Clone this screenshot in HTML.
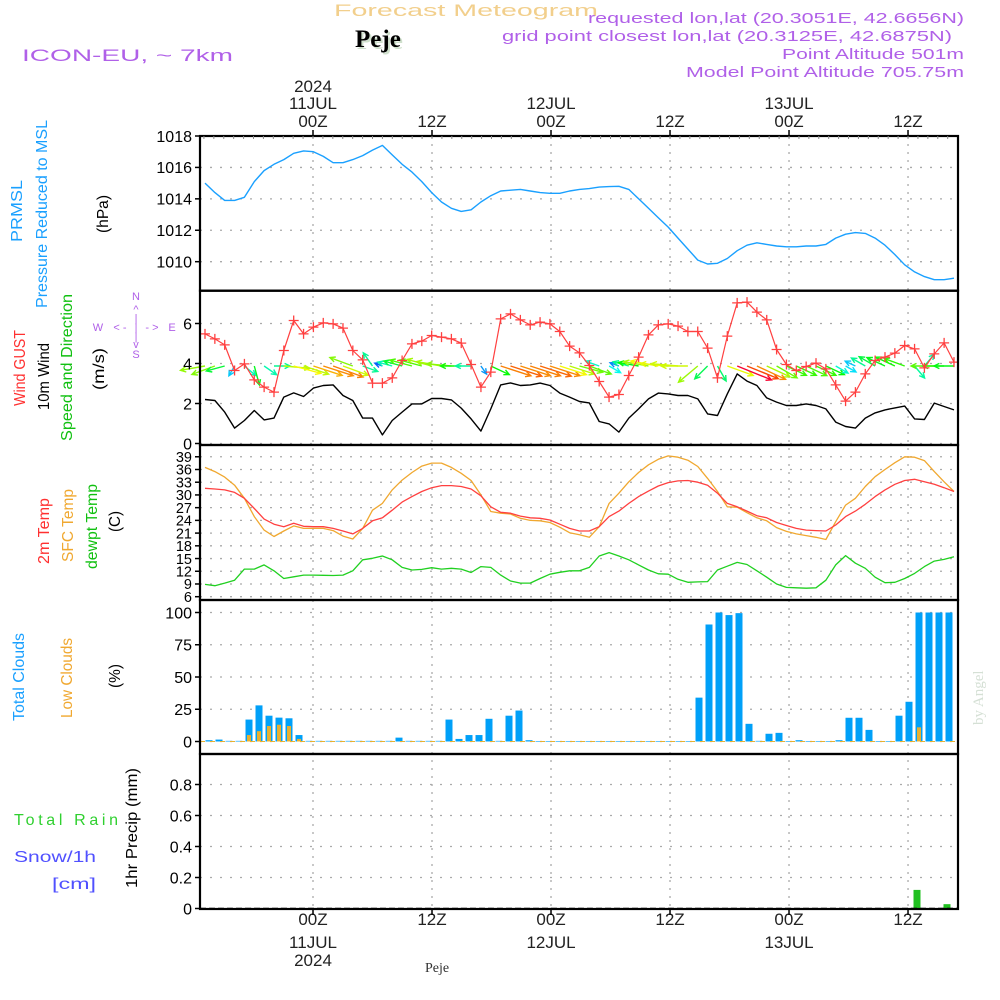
<!DOCTYPE html>
<html><head><meta charset="utf-8"><title>Meteogram Peje</title>
<style>
html,body{margin:0;padding:0;background:#fff;}
svg{display:block;font-family:"Liberation Sans",sans-serif;}
</style></head>
<body>
<svg id="chart" width="1000" height="1000" viewBox="0 0 1000 1000" xmlns="http://www.w3.org/2000/svg">
<rect x="0" y="0" width="1000" height="1000" fill="#fff"/>
<text x="334" y="16" font-size="17" fill="#f2cf8c" textLength="264" lengthAdjust="spacingAndGlyphs">Forecast Meteogram</text>
<text x="357" y="49" font-size="25" font-weight="bold" font-family="Liberation Serif,serif" fill="#cfe0cc">Peje</text>
<text x="355" y="47" font-size="25" font-weight="bold" font-family="Liberation Serif,serif" fill="#000">Peje</text>
<text x="22" y="61" font-size="17" fill="#b060e8" textLength="211" lengthAdjust="spacingAndGlyphs">ICON-EU, ~ 7km</text>
<g font-size="15" fill="#b060e8" text-anchor="end">
<text x="964" y="23" textLength="376" lengthAdjust="spacingAndGlyphs">requested lon,lat (20.3051E, 42.6656N)</text>
<text x="952" y="41" textLength="450" lengthAdjust="spacingAndGlyphs">grid point closest lon,lat (20.3125E, 42.6875N)</text>
<text x="964" y="59" textLength="182" lengthAdjust="spacingAndGlyphs">Point Altitude 501m</text>
<text x="964" y="77" textLength="278" lengthAdjust="spacingAndGlyphs">Model Point Altitude 705.75m</text>
</g>
<text transform="translate(983,725) rotate(-90)" font-size="15" font-family="Liberation Serif,serif" fill="#d5e0d5">by Angel</text>

<g font-size="16">
<text transform="translate(22,242) rotate(-90)" fill="#1aa0ff" textLength="62" lengthAdjust="spacingAndGlyphs">PRMSL</text>
<text transform="translate(47,308) rotate(-90)" fill="#1aa0ff" textLength="188" lengthAdjust="spacingAndGlyphs">Pressure Reduced to MSL</text>
<text transform="translate(108,233) rotate(-90)" fill="#000" textLength="38" lengthAdjust="spacingAndGlyphs">(hPa)</text>
<text transform="translate(25,406) rotate(-90)" fill="#ff3030" textLength="76" lengthAdjust="spacingAndGlyphs">Wind GUST</text>
<text transform="translate(49,410) rotate(-90)" fill="#000" textLength="67" lengthAdjust="spacingAndGlyphs">10m Wind</text>
<text transform="translate(72,441) rotate(-90)" fill="#10c010" textLength="147" lengthAdjust="spacingAndGlyphs">Speed and Direction</text>
<text transform="translate(104,390) rotate(-90)" fill="#000" textLength="42" lengthAdjust="spacingAndGlyphs">(m/s)</text>
<text transform="translate(49,564) rotate(-90)" fill="#ff3030" textLength="66" lengthAdjust="spacingAndGlyphs">2m Temp</text>
<text transform="translate(73,562) rotate(-90)" fill="#f0a830" textLength="73" lengthAdjust="spacingAndGlyphs">SFC Temp</text>
<text transform="translate(97,569) rotate(-90)" fill="#10c010" textLength="85" lengthAdjust="spacingAndGlyphs">dewpt Temp</text>
<text transform="translate(120,532) rotate(-90)" fill="#000" textLength="21" lengthAdjust="spacingAndGlyphs">(C)</text>
<text transform="translate(24,721) rotate(-90)" fill="#1aa0ff" textLength="88" lengthAdjust="spacingAndGlyphs">Total Clouds</text>
<text transform="translate(72,718) rotate(-90)" fill="#f0a830" textLength="80" lengthAdjust="spacingAndGlyphs">Low Clouds</text>
<text transform="translate(120,688) rotate(-90)" fill="#000" textLength="24" lengthAdjust="spacingAndGlyphs">(%)</text>
<text x="14" y="825" fill="#30d030" textLength="104" lengthAdjust="spacing">Total   Rain</text>
<text x="14" y="862" fill="#5050ff" textLength="82" lengthAdjust="spacingAndGlyphs">Snow/1h</text>
<text x="52" y="889" fill="#5050ff" textLength="44" lengthAdjust="spacingAndGlyphs">[cm]</text>
<text transform="translate(137,888) rotate(-90)" fill="#000" textLength="120" lengthAdjust="spacingAndGlyphs">1hr Precip (mm)</text>
</g>
<g font-size="11" fill="#b060e8" text-anchor="middle">
<text x="136" y="300">N</text><text x="136" y="313">^</text><text x="136" y="322">|</text>
<text x="98" y="331">W</text><text x="120" y="331">&lt; -</text><text x="136" y="331">|</text><text x="152" y="331">- &gt;</text><text x="172" y="331">E</text>
<text x="136" y="340">|</text><text x="136" y="348">v</text><text x="136" y="358">S</text>
</g>
<text x="425" y="972" font-size="14" font-family="Liberation Serif,serif" fill="#333">Peje</text>

<g id="grid"></g>
<g id="marks"></g>
<g id="frames"></g>
<g id="axes"></g>
</svg>
<script>
const pressure = [1015.0,1014.4,1013.9,1013.9,1014.1,1015.1,1015.8,1016.2,1016.5,1016.9,
1017.05,1017.0,1016.7,1016.3,1016.3,1016.5,1016.75,1017.1,1017.4,1016.8,
1016.2,1015.7,1015.1,1014.4,1013.8,1013.4,1013.2,1013.3,1013.8,1014.2,
1014.5,1014.55,1014.6,1014.5,1014.4,1014.35,1014.35,1014.5,1014.6,1014.65,
1014.75,1014.78,1014.8,1014.6,1014.0,1013.4,1012.8,1012.2,1011.5,1010.8,
1010.1,1009.85,1009.9,1010.2,1010.7,1011.05,1011.2,1011.1,1011.0,1010.95,
1010.95,1011.0,1011.0,1011.1,1011.5,1011.75,1011.85,1011.8,1011.5,1011.05,
1010.45,1009.8,1009.35,1009.05,1008.85,1008.85,1008.95];
const windGust = [5.48,5.23,4.93,3.65,3.98,3.18,2.82,2.57,4.65,6.15,
5.48,5.82,6.03,5.98,5.77,4.65,4.18,3.02,3.02,3.28,
4.15,4.98,5.12,5.4,5.32,5.23,5.02,3.95,2.82,3.57,
6.23,6.48,6.18,5.93,6.07,5.98,5.6,4.87,4.53,3.9,
3.1,2.32,2.45,3.4,4.32,5.43,5.93,5.98,5.87,5.6,
5.6,4.77,3.28,5.37,7.03,7.07,6.57,6.18,4.7,3.95,
3.65,3.85,4.02,3.73,2.93,2.12,2.57,3.48,4.15,4.32,
4.52,4.9,4.73,3.78,4.48,5.03,4.07];
const wind10m = [2.2,2.15,1.57,0.77,1.15,1.65,1.18,1.27,2.32,2.53,
2.35,2.77,2.9,2.93,2.4,2.15,1.27,1.27,0.43,1.15,
1.57,1.98,1.98,2.25,2.25,2.18,1.77,1.23,0.62,1.73,
2.93,3.03,2.9,2.93,3.02,2.9,2.52,2.32,2.1,2.03,
1.1,0.98,0.57,1.27,1.73,2.23,2.52,2.48,2.4,2.4,
2.23,1.48,1.4,2.48,3.48,3.12,2.9,2.28,2.07,1.9,
1.9,1.98,1.9,1.73,1.07,0.85,0.77,1.27,1.53,1.68,
1.78,1.87,1.23,1.2,2.02,1.85,1.68];
const windDir = [170,160,165,120,40,75,35,0,5,15,
18,18,18,20,20,200,20,235,200,195,
195,195,195,195,190,185,180,180,55,25,
18,18,18,18,18,18,18,18,15,20,
200,30,200,195,190,190,190,185,185,180,
140,135,60,20,22,22,25,25,30,25,
25,25,25,25,30,30,205,210,210,205,
205,200,50,310,180,180,180];
const temp2m = [31.56,31.4,31.2,30.6,29.2,26.8,24.3,23.1,22.5,23.3,
22.6,22.5,22.5,22.1,21.5,20.8,22.1,23.9,24.6,26.4,
28.3,29.6,30.8,31.7,32.2,32.2,32.0,31.4,29.8,27.2,
25.9,25.7,25.0,24.6,24.5,24.1,23.1,22.1,21.5,21.5,
22.5,24.9,26.2,28.0,29.6,30.9,32.1,32.9,33.3,33.4,
33.0,32.3,30.4,28.0,27.2,26.2,25.1,24.6,23.5,22.8,
22.1,21.7,21.6,21.5,22.9,24.9,26.2,27.8,29.6,31.2,
32.5,33.4,33.7,33.1,32.5,31.7,30.8];
const tempSfc = [36.5,35.5,34.2,32.3,29.2,24.9,21.7,20.2,21.5,22.7,
22.1,22.1,22.1,21.6,20.3,19.6,22.1,26.4,28.0,31.2,
33.5,35.3,36.8,37.5,37.5,36.5,35.1,33.4,30.0,26.1,
25.7,25.5,24.5,24.0,23.9,23.5,22.4,21.1,20.6,20.0,
22.5,28.0,30.4,33.1,35.3,37.1,38.4,39.2,38.9,38.2,
36.7,33.9,30.8,27.2,27.1,25.8,24.6,23.9,22.3,21.4,
20.8,20.4,20.0,19.5,23.7,27.6,29.2,32.0,34.3,36.0,
37.6,39.0,38.9,38.1,35.5,33.1,30.8];
const dewpt = [8.9,8.6,9.2,9.9,12.5,12.5,13.5,12.1,10.3,10.7,
11.1,11.1,11.04,11.0,11.1,12.1,14.7,15.05,15.6,14.7,
12.9,12.3,12.45,12.85,12.5,12.7,12.5,11.7,13.1,12.9,
11.1,9.7,9.2,9.2,10.3,11.3,11.75,12.1,12.1,12.9,
15.6,16.4,15.6,14.7,13.5,12.3,11.4,11.3,10.1,9.4,
9.5,9.55,12.3,13.2,14.1,13.6,12.1,10.6,9.0,8.2,
8.1,8.0,8.1,9.9,13.5,15.7,13.9,12.7,10.6,9.3,
9.4,10.3,11.5,13.1,14.4,14.8,15.4];
const totalClouds = [1,1.5,0.5,0.5,17,28,20,18.5,18,5,
0.5,0.5,0.5,0.5,0.5,0.5,0.5,0.5,0.5,3,
0.5,0.5,0.5,0.5,17,2,5,5,17.6,0.5,
20,24,1,0.3,0.3,0.3,0.3,0.3,0.3,0.3,
0.3,0.3,0.3,0.3,0.3,0.3,0.3,0.3,0.3,34,
90.7,100,98,99.5,13.7,0.5,6,6.7,0.3,1,
0.3,0.3,0.3,1,18.4,18.4,9,0.3,0.3,20,
30.8,100,100,100,100,4.4];
const lowClouds = [0,0,0,0,5,8,12,13,12,2,
0,0,0,0,0,0,0,0,0,0,
0,0,0,0,0,0,0,0,0,0,
0,0,0,0,0,0,0,0,0,0,
0,0,0,0,0,0,0,0,0,0,
0,0,0,0,0,0,0,0,0,0,
0,0,0,0,0,0,0,0,0,0,
0,11,0,0,0,0];
const precipIndex = [71,74];
const precipValue = [0.12,0.028];
const pTicks = [1010,1012,1014,1016,1018];
const wTicks = [0,2,4,6];
const tTicks = [6,9,12,15,18,21,24,27,30,33,36,39];
const cTicks = [0,25,50,75,100];
const rTicks = [0,0.2,0.4,0.6,0.8];
const rTickLabels = ["0","0.2","0.4","0.6","0.8"];
const timeHours = [0,12,24,36,48,60];
const topTimeLabels = [["2024","11JUL","00Z"],["","","12Z"],["","12JUL","00Z"],["","","12Z"],["","13JUL","00Z"],["","","12Z"]];
const bottomTimeLabels = [["00Z","11JUL","2024"],["12Z","",""],["00Z","12JUL",""],["12Z","",""],["00Z","13JUL",""],["12Z","",""]];

const L=200,R=958;
const xL = i => 205 + 9.855*i;
const xB = i => 209 + 10*i;
const xH = h => 313 + 9.917*h;
const yP = p => 136 + (1018-p)*15.71;
const yW = v => 443.5 - 20*v;
const yT = t => 596.7 - (t-6)*4.24;
const yC = c => 741.5 - c*1.29;
const yR = r => 908.5 - r*155;
const panels = [[136,290.7],[290.7,445],[445,600],[600,754],[754,909]];

const NS="http://www.w3.org/2000/svg";
function mk(tag, attrs, parent){const e=document.createElementNS(NS,tag);for(const k in attrs)e.setAttribute(k,attrs[k]);parent.appendChild(e);return e;}
const grid=document.getElementById('grid'), marks=document.getElementById('marks'), frames=document.getElementById('frames'), axes=document.getElementById('axes');

timeHours.forEach(h=>{
  const x=xH(h);
  const l=mk('line',{x1:x,x2:x,y1:136,y2:909,stroke:'#aaa','stroke-width':1.3,'stroke-dasharray':'2,6'},grid);
  
  
});
function hgrid(vals, f, y0, y1){
  vals.forEach(v=>{const y=f(v); if(y<y0-1||y>y1+1)return;
    const l=mk('line',{x1:L,x2:R,y1:y,y2:y,stroke:'#aaa','stroke-width':1.3,'stroke-dasharray':'2,8'},grid);
    
    
  });
}
hgrid(pTicks,yP,136,290);hgrid(wTicks,yW,291,445);hgrid(tTicks,yT,445,600);hgrid(cTicks,yC,600,754);hgrid(rTicks,yR,754,909);

function tickLabels(vals, f, labels, fs, name){
  vals.forEach((v,k)=>{const y=f(v);
    const t=mk('text',{x:192,y:y+fs*0.36,'font-size':fs,'text-anchor':'end',fill:'#000'},axes);
    t.textContent = labels? labels[k] : String(v);
    
    
    const tk=mk('line',{x1:195,x2:200,y1:y,y2:y,stroke:'#000','stroke-width':1.5},axes);
    
    
  });
}
tickLabels(pTicks,yP,null,16,'pressure-tick-label');
tickLabels(wTicks,yW,null,16,'wind-tick-label');
tickLabels(tTicks,yT,null,14.5,'temp-tick-label');
tickLabels(cTicks,yC,null,16,'cloud-tick-label');
tickLabels(rTicks,yR,rTickLabels,16,'precip-tick-label');

timeHours.forEach((h,k)=>{
  const x=xH(h);
  const tl=topTimeLabels[k], ys=[92,109,127];
  tl.forEach((s,j)=>{ if(!s)return;
    const t=mk('text',{x:x,y:ys[j],'font-size':17,'text-anchor':'middle',fill:'#222'},axes);
    t.textContent=s;
    
    
  });
  const bl=bottomTimeLabels[k], yb=[925,948,966];
  bl.forEach((s,j)=>{ if(!s)return;
    const t=mk('text',{x:x,y:yb[j],'font-size':17,'text-anchor':'middle',fill:'#222'},axes);
    t.textContent=s;
    
    
  });
  [[130,136],[909,915]].forEach(p=>{
    const tk=mk('line',{x1:x,x2:x,y1:p[0],y2:p[1],stroke:'#000','stroke-width':1.5},axes);
    
    
  });
});
for(let h=-11;h<=64;h++){
  const x=xH(h);
  const tk=mk('line',{x1:x,x2:x,y1:136,y2:139,stroke:'#888','stroke-width':1},axes);
  
  
}

function line(vals,fy,color,w,name){
  const d=vals.map((v,i)=>(i?'L':'M')+xL(i).toFixed(1)+','+fy(v).toFixed(1)).join('');
  const p=mk('path',{d:d,fill:'none',stroke:color,'stroke-width':w,'stroke-linejoin':'round'},marks);
  
  
}
line(pressure,yP,'#1aa0ff',1.4,'pressure-line');
line(wind10m,yW,'#000',1.4,'wind-10m-line');

windDir.forEach((a,i)=>{
  const s=wind10m[i], len=9.5*s+4, rad=a*Math.PI/180;
  const x0=xL(i), y0=366, x1=x0+len*Math.cos(rad), y1=y0+len*Math.sin(rad);
  let hue=250-s*75; if(hue<0)hue+=360;
  const col='hsl('+hue.toFixed(0)+',95%,50%)';
  const h1=rad+Math.PI-0.45, h2=rad+Math.PI+0.45;
  const d='M'+x0.toFixed(1)+','+y0+'L'+x1.toFixed(1)+','+y1.toFixed(1)+
    'M'+(x1+6*Math.cos(h1)).toFixed(1)+','+(y1+6*Math.sin(h1)).toFixed(1)+'L'+x1.toFixed(1)+','+y1.toFixed(1)+
    'L'+(x1+6*Math.cos(h2)).toFixed(1)+','+(y1+6*Math.sin(h2)).toFixed(1);
  const p=mk('path',{d:d,fill:'none',stroke:col,'stroke-width':1.4},marks);
  
  
});

line(windGust,yW,'#ff4040',1.2,'wind-gust-line');
windGust.forEach((v,i)=>{
  const x=xL(i),y=yW(v);
  const p=mk('path',{d:'M'+(x-5)+','+y+'h10M'+x+','+(y-5)+'v10',stroke:'#ff4040','stroke-width':1.3},marks);
  
  
});

line(tempSfc,yT,'#f0a830',1.3,'sfc-temp-line');
line(temp2m,yT,'#ff4040',1.3,'temp-2m-line');
line(dewpt,yT,'#20d020',1.3,'dewpt-line');

totalClouds.forEach((v,i)=>{
  const x=xB(i); if(x>958)return;
  const y=yC(v), w=Math.min(7,958-(x-3.5));
  const r=mk('rect',{x:x-3.5,y:y,width:w,height:Math.max(0.6,yC(0)-y),fill:'#00a0f8'},marks);
  
  
});
lowClouds.forEach((v,i)=>{
  const x=xB(i); if(x>958||v<=0)return;
  const y=yC(v);
  const r=mk('rect',{x:x-2,y:y,width:4,height:yC(0)-y,fill:'#e8b030'},marks);
  
  
});
const cb=mk('line',{x1:L,x2:R,y1:yC(0),y2:yC(0),stroke:'#e8b030','stroke-width':1,'stroke-dasharray':'5,5'},marks);



precipIndex.forEach((idx,k)=>{
  const x=xB(idx)-2, y=yR(precipValue[k]);
  const r=mk('rect',{x:x-3.5,y:y,width:7,height:yR(0)-y,fill:'#20c020'},marks);
  
  
});
const pb=mk('line',{x1:L,x2:R,y1:yR(0),y2:yR(0),stroke:'#000','stroke-width':1.5,'stroke-dasharray':'6,3'},marks);



panels.forEach(p=>{
  const r=mk('rect',{x:L,y:p[0],width:R-L,height:p[1]-p[0],fill:'none',stroke:'#000','stroke-width':2.2},frames);
  
  
});
</script>
</body></html>
